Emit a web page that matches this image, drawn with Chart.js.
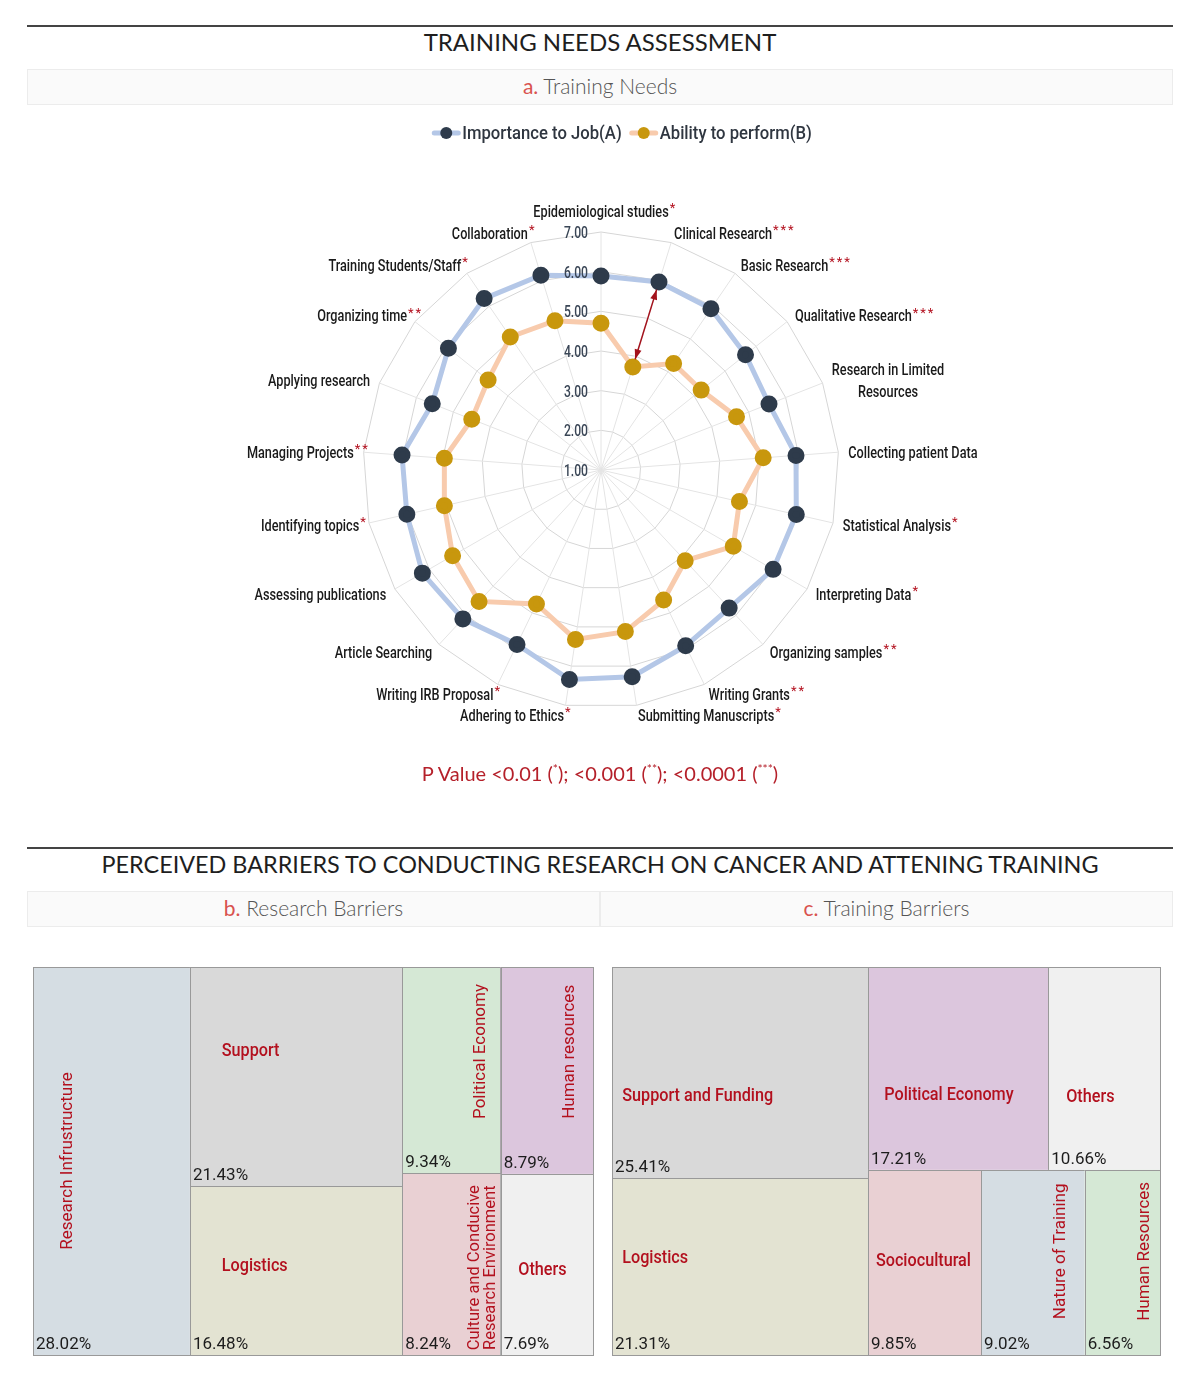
<!DOCTYPE html>
<html>
<head>
<meta charset="utf-8">
<title>Training Needs Assessment</title>
<script src="https://cdn.jsdelivr.net/npm/chart.js@4.4.1/dist/chart.umd.min.js"></script>
<style>
  body { margin: 0; background: #fff; width: 1200px; height: 1383px; position: relative; overflow: hidden; font-family: Lato, "Open Sans", sans-serif; }
  .rule { position: absolute; left: 27px; width: 1146px; border-top: 2px solid #444; }
  .title { position: absolute; left: 0; width: 1200px; text-align: center; font-size: 24px; line-height: 30px; color: #1e1e1e; }
  .sub { position: absolute; height: 36px; box-sizing: border-box; background: #fafafa; border: 1px solid #ececec;
         text-align: center; font-size: 21px; font-weight: 300; line-height: 32px; color: #555; }
  .sub span { color: #d9534f; font-weight: 400; }
  .pval { position: absolute; left: 0; width: 1200px; top: 755px; text-align: center; font-size: 20px; line-height: 28px; color: #b5202a; }
  .pval sup { font-size: 12px; }
  canvas { position: absolute; }
</style>
</head>
<body>
<div class="rule" style="top:25px"></div>
<div class="title" style="top:27px">TRAINING NEEDS ASSESSMENT</div>
<div class="sub" style="top:69px;left:27px;width:1146px"><span>a.</span> Training Needs</div>

<canvas id="radar" width="1200" height="680" style="left:0;top:110px"></canvas>
<div class="pval">P Value &lt;0.01 (<sup>*</sup>); &lt;0.001 (<sup>**</sup>); &lt;0.0001 (<sup>***</sup>)</div>

<div class="rule" style="top:847px"></div>
<div class="title" style="top:849px;font-size:23.4px">PERCEIVED BARRIERS TO CONDUCTING RESEARCH ON CANCER AND ATTENING TRAINING</div>
<div class="sub" style="top:891px;left:27px;width:573px"><span>b.</span> Research Barriers</div>
<div class="sub" style="top:891px;left:600px;width:573px"><span>c.</span> Training Barriers</div>

<canvas id="research" width="562" height="390" style="left:32px;top:966px"></canvas>
<canvas id="training" width="550" height="390" style="left:611px;top:966px"></canvas>

<script>
// ---- radar data ----
const skills = ['Epidemiological studies', 'Clinical Research', 'Basic Research', 'Qualitative Research',
  ['Research in Limited', 'Resources'], 'Collecting patient Data', 'Statistical Analysis', 'Interpreting Data',
  'Organizing samples', 'Writing Grants', 'Submitting Manuscripts', 'Adhering to Ethics', 'Writing IRB Proposal',
  'Article Searching', 'Assessing publications', 'Identifying topics', 'Managing Projects', 'Applying research',
  'Organizing time', 'Training Students/Staff', 'Collaboration'];
const importanceToJob = [5.89, 5.96, 5.92, 5.66, 5.55, 5.93, 6.05, 6.01, 5.75, 5.92, 6.27, 6.34, 5.88, 6.12, 6.20, 6.02, 6.03, 5.57, 5.92, 6.23, 6.14];
const abilityToPerform = [4.70, 3.72, 4.25, 4.23, 4.67, 5.10, 4.58, 4.85, 4.12, 4.64, 5.12, 5.32, 4.75, 5.52, 5.32, 5.05, 4.96, 4.50, 4.64, 5.06, 4.94];
// number of asterisks (p value level) per skill
const significance = [1, 3, 3, 3, 0, 0, 1, 1, 2, 2, 1, 1, 1, 0, 0, 1, 2, 0, 2, 1, 1];
const scaleMin = 1, scaleMax = 7, scaleStep = 1;
const arrowSkill = 1;

// ---- treemap data ----
const researchBarriers = ['Research Infrustructure', 'Support', 'Logistics', 'Political Economy', 'Human resources',
  ['Culture and Conducive', 'Research Environment'], 'Others'];
const researchShares = [28.02, 21.43, 16.48, 9.34, 8.79, 8.24, 7.69];
const trainingBarriers = ['Support and Funding', 'Logistics', 'Political Economy', 'Others', 'Sociocultural',
  'Nature of Training', 'Human Resources'];
const trainingShares = [25.41, 21.31, 17.21, 10.66, 9.85, 9.02, 6.56];

// how the cells are grouped (rows / columns) in each treemap
const researchTree = { dir: 'row', children: [0, { dir: 'col', children: [1, 2] }, { dir: 'col', children: [3, 5] }, { dir: 'col', children: [4, 6] }] };
const trainingTree = { dir: 'row', children: [{ dir: 'col', children: [0, 1] },
  { dir: 'col', children: [{ dir: 'row', children: [2, 3] }, { dir: 'row', children: [4, 5, 6] }] }] };

// styles
const researchFills = ['#d5dde3', '#d9d9d9', '#e3e3d2', '#d5e8d5', '#dcc6dd', '#e9d0d3', '#f0f0f0'];
const trainingFills = ['#d9d9d9', '#e3e3d2', '#dcc6dd', '#f0f0f0', '#e9d0d3', '#d5dde3', '#d5e8d5'];
const researchSpots = [{ v: true, fx: 0.22, fy: 0.5 }, { fx: 0.15, fy: 0.38 }, { fx: 0.15, fy: 0.47 },
  { v: true, fx: 0.8, fy: 0.41 }, { v: true, fx: 0.75, fy: 0.41 }, { v: true, fx: 0.82, fy: 0.52 }, { fx: 0.19, fy: 0.53 }];
const trainingSpots = [{ fx: 0.04, fy: 0.61 }, { fx: 0.04, fy: 0.45 }, { fx: 0.09, fy: 0.63 }, { fx: 0.16, fy: 0.64 },
  { fx: 0.07, fy: 0.49 }, { v: true, fx: 0.77, fy: 0.44 }, { v: true, fx: 0.8, fy: 0.44 }];

const RED = '#b3101e';

function condensed(ctx, text, x, y, align, sx) {
  ctx.save();
  ctx.translate(x, y);
  ctx.scale(sx, 1);
  ctx.textAlign = align;
  ctx.fillText(text, 0, 0);
  ctx.restore();
}

const radarDecor = {
  id: 'radarDecor',
  afterDatasetsDraw(chart) {
    // double arrow between the two scores of one skill
    const r = chart.scales.r, ctx = chart.ctx;
    const d0 = r.getDistanceFromCenterForValue(abilityToPerform[arrowSkill]) + 8;
    const d1 = r.getDistanceFromCenterForValue(importanceToJob[arrowSkill]) - 8;
    const a = r.getPointPosition(arrowSkill, d0), b = r.getPointPosition(arrowSkill, d1);
    const ang = Math.atan2(b.y - a.y, b.x - a.x);
    ctx.save();
    ctx.strokeStyle = '#a3121c'; ctx.fillStyle = '#a3121c'; ctx.lineWidth = 1.5;
    ctx.beginPath(); ctx.moveTo(a.x, a.y); ctx.lineTo(b.x, b.y); ctx.stroke();
    [[b, ang], [a, ang + Math.PI]].forEach(([p, t]) => {
      ctx.beginPath();
      ctx.moveTo(p.x, p.y);
      ctx.lineTo(p.x - 10 * Math.cos(t) + 3.5 * Math.sin(t), p.y - 10 * Math.sin(t) - 3.5 * Math.cos(t));
      ctx.lineTo(p.x - 10 * Math.cos(t) - 3.5 * Math.sin(t), p.y - 10 * Math.sin(t) + 3.5 * Math.cos(t));
      ctx.closePath(); ctx.fill();
    });
    ctx.restore();
  },
  afterDraw(chart) {
    const r = chart.scales.r, ctx = chart.ctx;
    const n = skills.length;
    const outer = r.getDistanceFromCenterForValue(r.max);
    ctx.save();
    ctx.textBaseline = 'middle';

    // tick labels
    ctx.fillStyle = '#3a4656';
    ctx.font = '500 16px Roboto';
    r.ticks.forEach(t => {
      const y = r.yCenter - r.getDistanceFromCenterForValue(t.value) + 2;
      condensed(ctx, t.value.toFixed(2), r.xCenter - 13, y, 'right', 0.76);
    });

    // point labels with red asterisks
    const SX = 0.77, lh = 22;
    skills.forEach((lab, i) => {
      const deg = i * 360 / n;
      const p = r.getPointPosition(i, outer + 10);
      const lines = [].concat(lab);
      ctx.font = '500 16.5px Roboto';
      const widths = lines.map(t => ctx.measureText(t).width * SX);
      const bw = Math.max(...widths);
      const left = deg === 0 || deg === 180 ? p.x - bw / 2 : deg < 180 ? p.x : p.x - bw;
      let cy = p.y + 2;
      if (deg === 0) cy -= lines.length * lh / 2;
      if (deg === 180) cy += lines.length * lh / 2;
      ctx.fillStyle = '#1a1a1a';
      lines.forEach((t, k) => {
        const y = cy - (lines.length - 1) * lh / 2 + k * lh;
        condensed(ctx, t, left + (bw - widths[k]) / 2, y, 'left', SX);
      });
      if (significance[i]) {
        ctx.fillStyle = RED;
        ctx.font = '13px Roboto';
        ctx.textAlign = 'left';
        for (let k = 0; k < significance[i]; k++) ctx.fillText('*', left + bw + 1 + k * 7.5, cy - 4);
      }
    });

    // legend (line with dot + label)
    ctx.font = '500 18.5px Roboto';
    const LSX = 0.9;
    const items = chart.data.datasets.map(ds => ({ ds, w: ctx.measureText(ds.label).width * LSX }));
    const total = items.reduce((s, it) => s + 30 + it.w, 0) + 8 * (items.length - 1);
    let x = chart.width / 2 + 22 - total / 2;
    const ly = 23;
    items.forEach(it => {
      ctx.strokeStyle = it.ds.borderColor; ctx.lineWidth = 5; ctx.lineCap = 'round';
      ctx.beginPath(); ctx.moveTo(x + 2, ly); ctx.lineTo(x + 26, ly); ctx.stroke();
      ctx.fillStyle = it.ds.pointBackgroundColor;
      ctx.beginPath(); ctx.arc(x + 14, ly, 6, 0, Math.PI * 2); ctx.fill();
      ctx.fillStyle = '#2f3640';
      condensed(ctx, it.ds.label, x + 30, ly + 1, 'left', LSX);
      x += 30 + it.w + 8;
    });
    ctx.restore();
  }
};

new Chart(document.getElementById('radar'), {
  type: 'radar',
  data: {
    labels: skills,
    datasets: [
      { label: 'Importance to Job(A)', data: importanceToJob, borderColor: '#b4c7e7', borderWidth: 5,
        pointBackgroundColor: '#2e3b4b', pointBorderColor: '#2e3b4b', pointRadius: 6, fill: false },
      { label: 'Ability to perform(B)', data: abilityToPerform, borderColor: '#f8cbad', borderWidth: 5,
        pointBackgroundColor: '#c8970d', pointBorderColor: '#c8970d', pointRadius: 6, fill: false }
    ]
  },
  options: {
    responsive: false,
    animation: false,
    events: [],
    layout: { padding: { top: 122, bottom: 82, left: 2, right: 0 } },
    scales: {
      r: {
        min: scaleMin, max: scaleMax,
        ticks: { stepSize: scaleStep, display: false },
        pointLabels: { display: false },
        grid: { color: '#d6d6d6' },
        angleLines: { color: '#e4e4e4' }
      }
    },
    plugins: { legend: { display: false }, tooltip: { enabled: false } }
  },
  plugins: [radarDecor]
});

// ---- treemaps ----
function sumOf(node, values) {
  return typeof node === 'number' ? values[node] : node.children.reduce((s, c) => s + sumOf(c, values), 0);
}
function layoutTree(node, values, x0, y0, x1, y1, out) {
  if (typeof node === 'number') { out[node] = { x0, y0, x1, y1 }; return out; }
  const sums = node.children.map(c => sumOf(c, values));
  const total = sums.reduce((a, b) => a + b, 0);
  let acc = 0;
  node.children.forEach((c, k) => {
    const a = acc / total, b = (acc + sums[k]) / total;
    if (node.dir === 'row') layoutTree(c, values, x0 + (x1 - x0) * a, y0, x0 + (x1 - x0) * b, y1, out);
    else layoutTree(c, values, x0, y0 + (y1 - y0) * a, x1, y0 + (y1 - y0) * b, out);
    acc += sums[k];
  });
  return out;
}

function treemapChart(id, names, shares, tree, fills, spots) {
  const cells = layoutTree(tree, shares, 0, 0, 100, 100, []);
  return new Chart(document.getElementById(id), {
    type: 'scatter',
    data: { datasets: [{ label: 'share', data: [] }] },
    options: {
      responsive: false, animation: false, events: [],
      layout: { padding: 1 },
      scales: {
        x: { type: 'linear', min: 0, max: 100, display: false },
        y: { type: 'linear', min: 0, max: 100, reverse: true, display: false }
      },
      plugins: { legend: { display: false }, tooltip: { enabled: false } }
    },
    plugins: [{
      id: 'treemapCells',
      afterDraw(chart) {
        const ctx = chart.ctx, sx = chart.scales.x, sy = chart.scales.y;
        ctx.save();
        cells.forEach((c, i) => {
          const L = sx.getPixelForValue(c.x0), R = sx.getPixelForValue(c.x1);
          const T = sy.getPixelForValue(c.y0), B = sy.getPixelForValue(c.y1);
          const w = R - L, h = B - T;
          ctx.fillStyle = fills[i];
          ctx.fillRect(L, T, w, h);
          ctx.strokeStyle = '#999'; ctx.lineWidth = 1;
          ctx.strokeRect(Math.round(L) + 0.5, Math.round(T) + 0.5, Math.round(w), Math.round(h));

          // percentage, bottom-left
          ctx.fillStyle = '#1c1c1c';
          ctx.font = '17px Roboto';
          ctx.textAlign = 'left'; ctx.textBaseline = 'alphabetic';
          ctx.fillText(shares[i].toFixed(2) + '%', L + 3, B - 6);

          // category name
          const s = spots[i];
          const px = L + s.fx * w, py = T + s.fy * h;
          ctx.fillStyle = RED;
          ctx.textBaseline = 'middle';
          const lines = [].concat(names[i]);
          if (s.v) {
            ctx.font = lines.length > 1 ? '16.5px Roboto' : '17px Roboto';
            ctx.save();
            ctx.translate(px, py);
            ctx.rotate(-Math.PI / 2);
            ctx.textAlign = 'center';
            lines.forEach((t, k) => ctx.fillText(t, 0, (k - (lines.length - 1) / 2) * 16));
            ctx.restore();
          } else {
            ctx.font = '500 18px Roboto';
            condensed(ctx, lines[0], px, py + 1, 'left', 0.9);
          }
        });
        ctx.restore();
      }
    }]
  });
}

treemapChart('research', researchBarriers, researchShares, researchTree, researchFills, researchSpots);
treemapChart('training', trainingBarriers, trainingShares, trainingTree, trainingFills, trainingSpots);
</script>
</body>
</html>
